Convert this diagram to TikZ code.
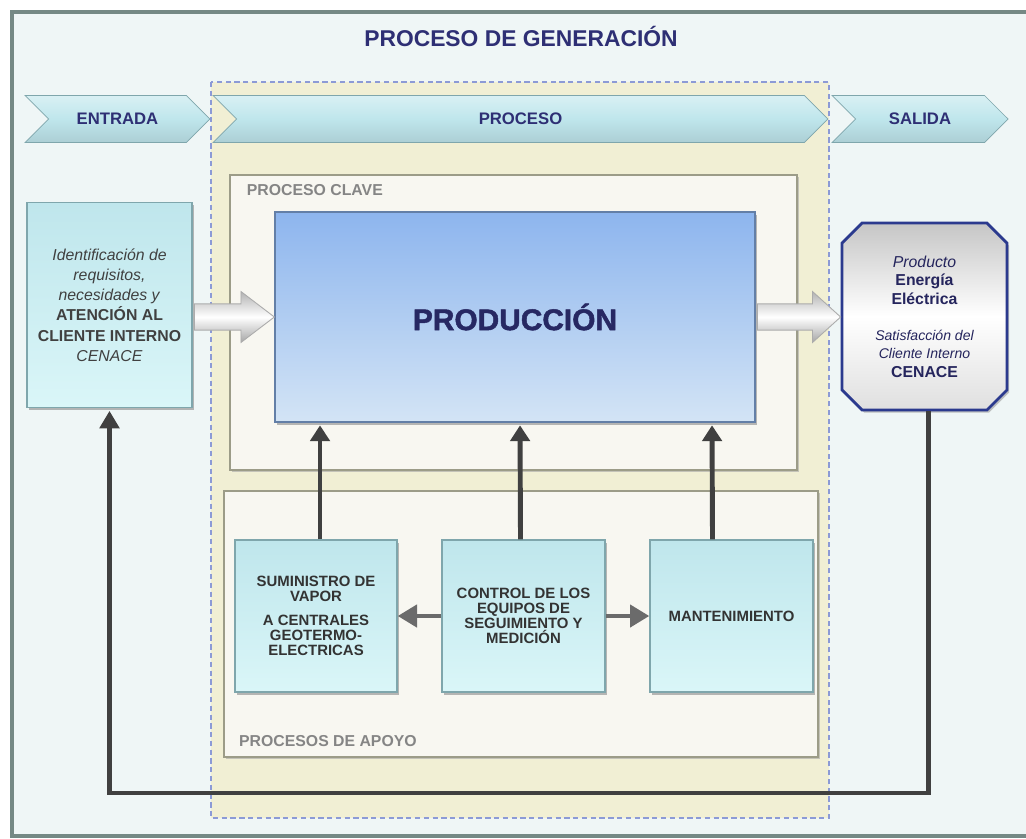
\documentclass[tikz,border=0pt]{standalone}
\usepackage{fontspec}
\setmainfont{Liberation Sans}
\newfontfamily\gruesa{Liberation Sans Bold}[FakeBold=1.6]
\usepackage{tikz}
\usetikzlibrary{positioning,shapes,shapes.symbols,shapes.misc,arrows.meta,calc,shadows}

\definecolor{fondo}{HTML}{EFF6F6}
\definecolor{marco}{HTML}{758985}
\definecolor{crema}{HTML}{F1EFD4}
\definecolor{azultxt}{HTML}{2E2F74}
\definecolor{guion}{HTML}{8C9AD6}
\definecolor{caja}{HTML}{F8F7F1}
\definecolor{bordecaja}{HTML}{9C9C88}
\definecolor{ciant}{HTML}{BFE6EC}
\definecolor{cianb}{HTML}{DAF6F8}
\definecolor{bordeci}{HTML}{7FA6AC}
\definecolor{prodt}{HTML}{8DB5EE}
\definecolor{prodb}{HTML}{D3E4F5}
\definecolor{flecha}{HTML}{404040}
\definecolor{octo}{HTML}{2B3A8E}

\begin{document}
\begin{tikzpicture}[%
        x=0.02cm, y=-0.02cm,
        chev/.style={%
          signal, signal from=west, signal to=east,
          signal pointer angle=90,
          minimum height=0.94cm, inner sep=0pt,
          top color=ciant!60, bottom color=ciant!90!black, middle color=ciant,
          draw=bordeci,
          font=\fontsize{9.5}{11}\selectfont\bfseries, text=azultxt
        },
        zona/.style={%
          rectangle, fill=caja, draw=bordecaja, line width=1.2pt,
          drop shadow={shadow xshift=1.2pt, shadow yshift=-1.2pt, opacity=0.6, fill=gray!70}
        },
        cajita/.style={%
          rectangle, top color=ciant, bottom color=cianb, draw=bordeci, line width=0.8pt,
          align=center, inner sep=2pt,
          drop shadow={shadow xshift=1.2pt, shadow yshift=-1.5pt, opacity=0.7, fill=gray!80},
          font=\fontsize{8.5}{8.5}\selectfont\bfseries, text=black!80
        },
        lbl/.style={inner sep=0pt, font=\fontsize{9}{10}\selectfont\bfseries, text=black!48},
        fat/.style={top color=gray!60, bottom color=gray!70, middle color=white, draw=gray!65, line width=0.5pt},
        vert/.style={-{Triangle[width=11pt,length=9pt]}, line width=2.8pt, draw=flecha, shorten >=1.5pt},
        horiz/.style={-{Triangle[width=12.5pt,length=11pt]}, line width=2.6pt, draw=black!58},
        retro/.style={-{Triangle[width=11pt,length=10pt]}, line width=2.8pt, draw=black!75, shorten >=1.5pt}
      ]
      \useasboundingbox (0,0) rectangle (1026,838);
      \fill[white] (0,0) rectangle (1026,838);
      \filldraw[fill=fondo, draw=marco, line width=2.5pt] (12,12) rectangle (1040,836);

      % titulo
      \node[font=\fontsize{13}{15}\selectfont\bfseries, text=azultxt] (tit) at (521,36) {PROCESO DE GENERACIÓN};

      % zona del proceso
      \filldraw[fill=crema, draw=guion, line width=1.2pt, dash pattern=on 3pt off 2pt] (211,82) rectangle (829,818);

      \node[chev, minimum width=3.7cm] (entrada) at (117.5,119) {ENTRADA};
      \node[chev, minimum width=12.3cm] (proceso) at (520.5,119) {PROCESO};
      \node[chev, minimum width=3.52cm] (salida) at (920,119) {SALIDA};

      \node[zona, minimum width=11.34cm, minimum height=5.9cm] (clave) at (513.5,322.5) {};
      \node[lbl, below right=5.5pt and 10pt of clave.north west] (lclave) {PROCESO CLAVE};
      \node[zona, minimum width=11.88cm, minimum height=5.32cm] (apoyo) at (521,624) {};
      \node[lbl, above right=6pt and 9pt of apoyo.south west] (lapoyo) {PROCESOS DE APOYO};

      \node[rectangle, top color=prodt, bottom color=prodb, draw=prodt!70!black, line width=0.8pt,
        minimum width=9.6cm, minimum height=4.2cm,
        drop shadow={shadow xshift=1.2pt, shadow yshift=-1.5pt, opacity=0.7, fill=gray!80},
        font=\fontsize{17}{20}\selectfont\gruesa, text=azultxt!85!black] (prod) at (515,317) {PRODUCCIÓN};

      \node[cajita, minimum width=3.3cm, minimum height=4.1cm, font=\fontsize{9}{11.5}\selectfont, text=black!75] (ent) at (109.5,305)
        {\textit{Identificación de}\\\textit{requisitos,}\\\textit{necesidades y}\\\textbf{ATENCIÓN AL}\\\textbf{CLIENTE INTERNO}\\\textit{CENACE}};

      \node[chamfered rectangle, chamfered rectangle xsep=0.2cm, chamfered rectangle ysep=0.2cm,
        minimum width=3.3cm, minimum height=3.74cm, inner sep=1pt, align=center,
        top color=gray!45, bottom color=gray!25, middle color=white,
        draw=octo, line width=1.6pt,
        drop shadow={shadow xshift=1.2pt, shadow yshift=-1.5pt, opacity=0.6, fill=gray!80},
        font=\fontsize{9}{10.5}\selectfont, text=azultxt!80!black] (sal) at (924.5,316.5)
        {\textit{Producto}\\\textbf{Energía}\\\textbf{Eléctrica}\\[10pt]{\fontsize{8}{10}\selectfont\itshape Satisfacción del}\\{\fontsize{8}{10}\selectfont\itshape Cliente Interno}\\\textbf{CENACE}};

      \node[cajita, minimum width=3.24cm, minimum height=3.04cm] (sum) at (316,616)
        {SUMINISTRO DE\\VAPOR\\[5pt]A CENTRALES\\GEOTERMO-\\ELECTRICAS};
      \node[cajita, minimum width=3.26cm, minimum height=3.04cm] (ctl) at (523.5,616)
        {CONTROL DE LOS\\EQUIPOS DE\\SEGUIMIENTO Y\\MEDICIÓN};
      \node[cajita, minimum width=3.26cm, minimum height=3.04cm] (mnt) at (731.5,616) {MANTENIMIENTO};

      % flechas anchas
      \shadedraw[fat] let \p1=(ent.east), \p2=(prod.west) in
        ({\x1+1pt},{\y2+7.5pt}) -- ({\x2-19pt},{\y2+7.5pt}) -- ({\x2-19pt},{\y2+14.5pt})
        -- (\x2,\y2) -- ({\x2-19pt},{\y2-14.5pt}) -- ({\x2-19pt},{\y2-7.5pt}) -- ({\x1+1pt},{\y2-7.5pt}) -- cycle;
      \shadedraw[fat] let \p1=(prod.east), \p2=(sal.west) in
        ({\x1+1pt},{\y1+7.5pt}) -- ({\x2-16pt},{\y1+7.5pt}) -- ({\x2-16pt},{\y1+14.5pt})
        -- (\x2,\y1) -- ({\x2-16pt},{\y1-14.5pt}) -- ({\x2-16pt},{\y1-7.5pt}) -- ({\x1+1pt},{\y1-7.5pt}) -- cycle;

      \path ($(sum.north)+(4,0)$) edge [vert] ($(prod.south)+(-195,0)$)
      ($(ctl.north)+(-3,0)$) edge [vert] ($(prod.south)+(5,0)$)
      ($(mnt.north)+(-19,0)$) edge [vert] ($(prod.south)+(197,0)$)
      (ctl) edge [horiz] (sum)
      (ctl) edge [horiz] (mnt);

      \coordinate (fondoret) at (0,793);
      \coordinate (salbase) at ($(sal.south)+(4,0)$);
      \draw[retro] (salbase) -- (salbase |- fondoret) -| (ent.south);

  \end{tikzpicture}
\end{document}
